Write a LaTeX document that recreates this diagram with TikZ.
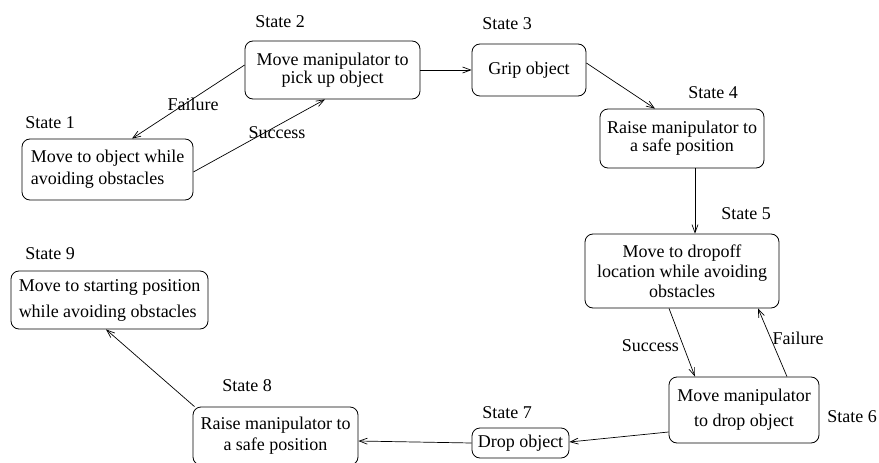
\documentclass[tikz,border=0pt]{standalone}
\usepackage{fontspec}
\setmainfont{Liberation Serif}
\usetikzlibrary{arrows.meta}
\begin{document}
\begin{tikzpicture}[x=1pt,y=-1pt,
  txt/.style={font=\fontsize{18}{20}\selectfont},
  box/.style={draw, rounded corners=8pt, line width=0.8pt, align=center, inner sep=0pt, txt},
  lbl/.style={inner sep=0pt, txt},
  arr/.style={-{Straight Barb[length=8pt,width=6pt]}, line width=0.7pt}]
\useasboundingbox (0,0) rectangle (879,463);

\node[box, align=left, minimum width=171pt, minimum height=61pt] (s1) at (107.5,169.5) {Move to object while\\[2pt]avoiding obstacles};
\node[box, minimum width=175pt, minimum height=58pt] (s2) at (332.5,70) {Move manipulator to\\[-2pt]pick up object};
\node[box, minimum width=114pt, minimum height=52pt] (s3) at (529,70) {Grip object};
\node[box, minimum width=164pt, minimum height=59pt] (s4) at (682,138.5) {Raise manipulator to\\[-2pt]a safe position};
\node[box, minimum width=194pt, minimum height=74pt] (s5) at (682,271) {Move to dropoff\\location while avoiding\\obstacles};
\node[box, minimum width=150pt, minimum height=66pt] (s6) at (744,410) {Move manipulator\\[5pt]to drop object};
\node[box, minimum width=97pt, minimum height=30pt] (s7) at (520.5,443) {Drop object};
\node[box, minimum width=165pt, minimum height=58pt] (s8) at (275.5,436) {Raise manipulator to\\[1pt]a safe position};
\node[box, align=left, minimum width=197pt, minimum height=58pt] (s9) at (109.5,300) {Move to starting position\\[6pt]while avoiding obstacles};

\node[lbl] (l1) at (50,123) {State 1};
\node[lbl] (l2) at (280,22) {State 2};
\node[lbl] (l3) at (507,24) {State 3};
\node[lbl] (l4) at (713,93) {State 4};
\node[lbl] (l5) at (746,214) {State 5};
\node[lbl] (l6) at (852,417) {State 6};
\node[lbl] (l7) at (507,413) {State 7};
\node[lbl] (l8) at (247,386) {State 8};
\node[lbl] (l9) at (50,254) {State 9};

\draw[arr] ([yshift=5pt]s2.west) -- ([xshift=24.5pt]s1.north);
\draw[arr] ([yshift=-2.5pt]s1.east) -- ([xshift=-7.5pt]s2.south);
\draw[arr] (s2.east) -- (s3.west);
\draw[arr] ([yshift=7pt]s3.east) -- ([xshift=-27pt]s4.north);
\draw[arr] ([xshift=13pt]s4.south) -- ([xshift=13pt]s5.north);
\draw[arr] ([xshift=-13pt]s5.south) -- ([xshift=-49pt]s6.north);
\draw[arr] ([xshift=43pt]s6.north) -- ([xshift=76pt]s5.south);
\draw[arr] ([yshift=-22pt]s6.west) -- ([yshift=1pt]s7.east);
\draw[arr] (s7.west) -- ([yshift=-5pt]s8.east);
\draw[arr] ([xshift=-81pt]s8.north) -- ([xshift=-3.5pt]s9.south);

\node[lbl] (f1) at (193,104) {Failure};
\node[lbl] (su1) at (277,133) {Success};
\node[lbl, anchor=east] (su2) at (679,346) {Success};
\node[lbl] (f2) at (798,338) {Failure};
\end{tikzpicture}
\end{document}
